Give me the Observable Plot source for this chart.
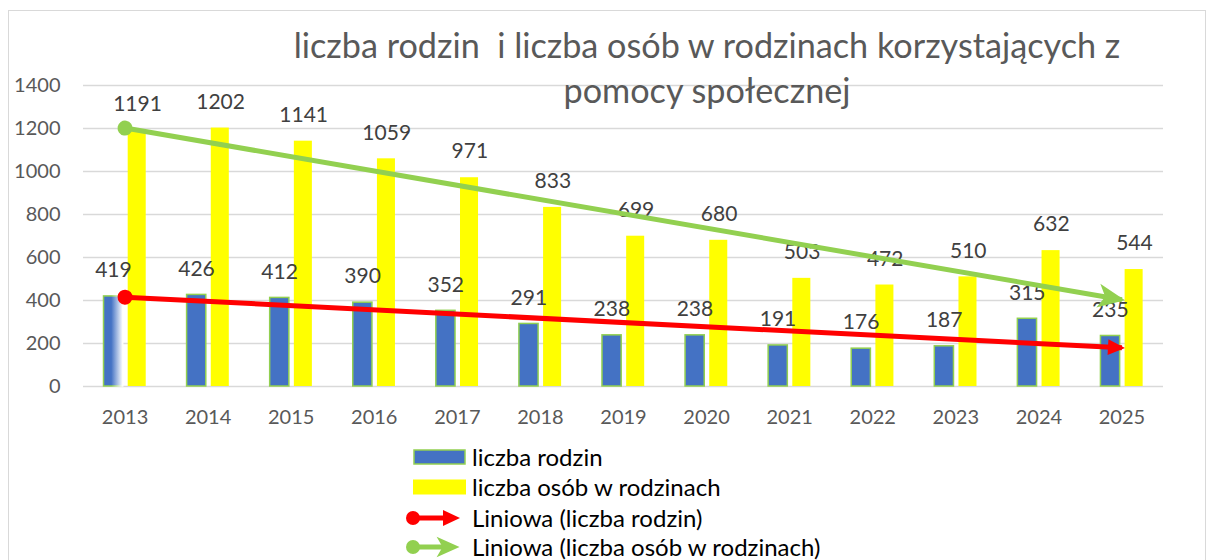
<!DOCTYPE html>
<html>
<head>
<meta charset="utf-8">
<script src="https://cdn.jsdelivr.net/npm/d3@7"></script>
<script src="https://cdn.jsdelivr.net/npm/@observablehq/plot@0.6"></script>
<style>
  body { margin: 0; width: 1208px; height: 560px; overflow: hidden; background: #fff; position: relative; font-family: Lato, "Liberation Sans", sans-serif; }
  #frame { position: absolute; left: 8px; top: 10px; width: 1198px; height: 620px; border: 1.5px solid #d9d9d9; box-sizing: border-box; }
  #chart { position: absolute; left: 0; top: 0; }
  .title-line { position: absolute; left: 707px; transform: translateX(-50%); font-size: 34.2px; line-height: 40px; color: #595959; white-space: pre; }
  #legend { position: absolute; left: 0; top: 0; width: 1208px; height: 560px; pointer-events: none; }
  .lg-text { position: absolute; left: 472px; font-size: 24px; color: #000; line-height: 30px; white-space: pre; }
</style>
</head>
<body>
<div id="frame"></div>
<div id="chart"></div>
<div id="titles"></div>
<div id="legend"></div>
<script>
// ---- data ----
const years = [2013, 2014, 2015, 2016, 2017, 2018, 2019, 2020, 2021, 2022, 2023, 2024, 2025];
const families = [419, 426, 412, 390, 352, 291, 238, 238, 191, 176, 187, 315, 235];
const persons = [1191, 1202, 1141, 1059, 971, 833, 699, 680, 503, 472, 510, 632, 544];
const yTicks = [0, 200, 400, 600, 800, 1000, 1200, 1400];
const titleLines = ["liczba rodzin  i liczba osób w rodzinach korzystających z", "pomocy społecznej"];
const seriesNames = ["liczba rodzin", "liczba osób w rodzinach"];
const trendNames = ["Liniowa (liczba rodzin)", "Liniowa (liczba osób w rodzinach)"];

const colBlue = "#4472c4", colOutline = "#92d050", colYellow = "#ffff00";
const colRed = "#ff0000", colGreen = "#92d050";

const rows = years.map((year, i) => ({year, families: families[i], persons: persons[i]}));

// Excel-style linear trend (x = 1..n)
function trend(values) {
  const n = values.length;
  const xs = values.map((_, i) => i + 1);
  const mx = d3.mean(xs), my = d3.mean(values);
  const sxy = d3.sum(xs, (x, i) => (x - mx) * (values[i] - my));
  const sxx = d3.sum(xs, x => (x - mx) ** 2);
  const b = sxy / sxx, a = my - b * mx;
  return [{year: years[0], v: a + b * 1}, {year: years[n - 1], v: a + b * n}];
}
const trendFam = trend(families);
const trendPer = trend(persons);

const NS = "http://www.w3.org/2000/svg";
function circleMarker(r) {
  return (color) => {
    const m = document.createElementNS(NS, "marker");
    m.setAttribute("viewBox", `${-r - 1} ${-r - 1} ${2 * r + 2} ${2 * r + 2}`);
    m.setAttribute("markerWidth", 2 * r + 2);
    m.setAttribute("markerHeight", 2 * r + 2);
    m.setAttribute("markerUnits", "userSpaceOnUse");
    m.setAttribute("orient", "auto");
    const c = document.createElementNS(NS, "circle");
    c.setAttribute("r", r);
    c.setAttribute("fill", color);
    c.setAttribute("stroke", "none");
    m.appendChild(c);
    return m;
  };
}
function pathMarker(d, box) {
  return (color) => {
    const m = document.createElementNS(NS, "marker");
    m.setAttribute("viewBox", box.join(" "));
    m.setAttribute("markerWidth", box[2]);
    m.setAttribute("markerHeight", box[3]);
    m.setAttribute("markerUnits", "userSpaceOnUse");
    m.setAttribute("orient", "auto");
    m.setAttribute("overflow", "visible");
    const p = document.createElementNS(NS, "path");
    p.setAttribute("d", d);
    p.setAttribute("fill", color);
    p.setAttribute("stroke", "none");
    m.appendChild(p);
    return m;
  };
}
const redArrow = "M-14,-8 L3,0 L-14,8 Z";
const greenArrow = "M-24,-12 L3,0 L-24,12 L-17,0 Z";

const plot = Plot.plot({
  width: 1208,
  height: 440,
  marginLeft: 83,
  marginRight: 45,
  marginTop: 85,
  marginBottom: 54,
  style: {fontFamily: "Lato, 'Liberation Sans', sans-serif", fontSize: "20px", color: "#595959", background: "transparent", overflow: "visible"},
  x: {type: "linear", domain: [years[0] - 0.5, years[years.length - 1] + 0.5], label: null},
  y: {domain: [yTicks[0], yTicks[yTicks.length - 1]], label: null},
  marks: [
    Plot.gridY(yTicks, {stroke: "#d9d9d9", strokeOpacity: 1, strokeWidth: 1.5}),
    Plot.axisY(yTicks, {tickSize: 0, tickPadding: 23, label: null, fontSize: 20, tickFormat: d => String(d)}),
    Plot.axisX(years, {tickSize: 0, tickPadding: 23, label: null, fontSize: 20, tickFormat: d => String(d)}),
    Plot.rectY(rows, {filter: d => d.year !== years[0], x1: d => d.year - 0.253, x2: d => d.year - 0.022, y: "families", fill: colBlue, stroke: colOutline, strokeWidth: 1.5}),
    Plot.rectY(rows, {filter: d => d.year === years[0], x1: d => d.year - 0.253, x2: d => d.year - 0.022, y: "families", fill: "url(#fadeBlue)", stroke: "url(#fadeOutline)", strokeWidth: 1.5}),
    Plot.rectY(rows, {x1: d => d.year + 0.038, x2: d => d.year + 0.255, y: "persons", fill: colYellow}),
    Plot.text(rows, {x: d => d.year - 0.14, y: "families", text: d => String(d.families), dy: -26, fontSize: 21, fill: "#404040"}),
    Plot.text(rows, {x: d => d.year + 0.15, y: "persons", text: d => String(d.persons), dy: -26, fontSize: 21, fill: "#404040"}),
    Plot.line(trendFam, {x: "year", y: "v", stroke: colRed, strokeWidth: 5, strokeLinecap: "butt", markerStart: circleMarker(7.5), markerEnd: pathMarker(redArrow, [-15, -9, 19, 18])}),
    Plot.line(trendPer, {x: "year", y: "v", stroke: colGreen, strokeWidth: 5, strokeLinecap: "butt", markerStart: circleMarker(7.5), markerEnd: pathMarker(greenArrow, [-25, -13, 29, 26])})
  ]
});
// gradient definitions for the faded first bar
const defs = d3.select(plot).insert("defs", ":first-child");
function grad(id, c) {
  const g = defs.append("linearGradient").attr("id", id).attr("x1", 0).attr("x2", 1).attr("y1", 0).attr("y2", 0);
  g.append("stop").attr("offset", 0).attr("stop-color", c);
  g.append("stop").attr("offset", 0.4).attr("stop-color", c);
  g.append("stop").attr("offset", 1).attr("stop-color", "#ffffff");
}
grad("fadeBlue", colBlue);
grad("fadeOutline", colOutline);
document.getElementById("chart").appendChild(plot);

// ---- title (two tight lines) ----
const titles = document.getElementById("titles");
[25, 70].forEach((top, i) => {
  const div = document.createElement("div");
  div.className = "title-line";
  div.style.top = top + "px";
  div.textContent = titleLines[i];
  titles.appendChild(div);
});

// ---- legend ----
const legend = document.getElementById("legend");
const rowY = [457, 487, 518, 547];
const lsvg = d3.select(legend).append("svg").attr("width", 1208).attr("height", 560)
  .style("position", "absolute").style("left", 0).style("top", 0);
lsvg.append("rect").attr("x", 414).attr("y", rowY[0] - 7).attr("width", 51).attr("height", 14)
  .attr("fill", colBlue).attr("stroke", colOutline).attr("stroke-width", 1.5);
lsvg.append("rect").attr("x", 413).attr("y", rowY[1] - 7.5).attr("width", 53).attr("height", 15)
  .attr("fill", colYellow);
[[colRed, redArrow, 460], [colGreen, greenArrow, 460]].forEach(([c, d, tip], k) => {
  const y = rowY[2 + k];
  lsvg.append("line").attr("x1", 413).attr("x2", tip - (k ? 14 : 8)).attr("y1", y).attr("y2", y)
    .attr("stroke", c).attr("stroke-width", 5);
  lsvg.append("circle").attr("cx", 413).attr("cy", y).attr("r", 7).attr("fill", c);
  lsvg.append("path").attr("d", d).attr("transform", `translate(${tip - 3},${y}) scale(${k ? 0.85 : 1})`).attr("fill", c);
});
const labels = [...seriesNames, ...trendNames];
labels.forEach((t, i) => {
  const div = document.createElement("div");
  div.className = "lg-text";
  div.style.top = (rowY[i] - 15) + "px";
  div.textContent = t;
  legend.appendChild(div);
});
</script>
</body>
</html>
